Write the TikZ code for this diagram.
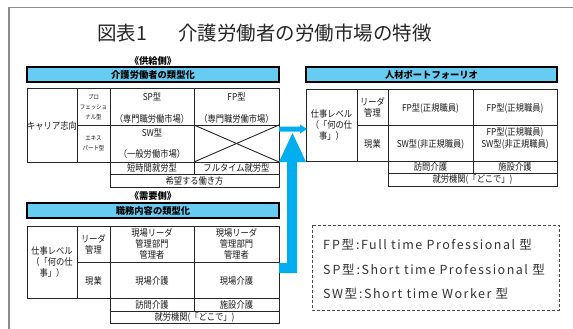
\documentclass[tikz,border=0pt]{standalone}
\usepackage{fontspec}
\setmainfont{Noto Sans CJK JP}
\newfontfamily\condfont[FakeStretch=0.88]{Noto Sans CJK JP}
\newfontfamily\legfont[LetterSpace=12]{Noto Sans CJK JP}
\usetikzlibrary{arrows.meta}
\definecolor{barblue}{HTML}{66CCF2}
\definecolor{arrblue}{HTML}{00AEEF}
\definecolor{framegray}{HTML}{8C8C8C}
\begin{document}
\begin{tikzpicture}[x=1pt,y=-1pt,
  t/.style={font=\condfont\fontsize{9.4}{11}\selectfont, inner sep=0pt, text=black!90, align=center},
  ts/.style={font=\condfont\fontsize{6.2}{10}\selectfont, inner sep=0pt, text=black!90, align=center},
  bar/.style={draw=black, line width=1.6pt, fill=barblue},
  grid/.style={line width=0.6pt, black!85},
  crossline/.style={line width=0.9pt, black!85},
  bartext/.style={font=\bfseries\fontsize{9.3}{10}\selectfont, inner sep=0pt},
  leg/.style={font=\legfont\fontsize{12.5}{14}\selectfont, inner sep=0pt, text=black!80, anchor=west},
]
\useasboundingbox (0,0) rectangle (573,329);
% frame
\draw[framegray, line width=1.2pt] (9,329) -- (9,7.5) -- (573,7.5);
% title
\node[font=\fontsize{19.5}{21}\selectfont, inner sep=0pt, anchor=west, text=black!85] (ttlA) at (97,33.5) {図表1};
\node[font=\fontsize{19.5}{21}\selectfont, inner sep=0pt, anchor=west, text=black!85] (ttlB) at (178,33.5) {介護労働者の労働市場の特徴};

% ---------- supply side ----------
\node[bartext] (supply) at (153,61) {《供給側》};
\draw[bar] (27,67) rectangle (279,82);
\node[bartext] (barA) at (153,74.5) {介護労働者の類型化};
\draw[grid] (27,88) rectangle (279,162);
\draw[grid] (77,88) -- (77,162);
\draw[grid] (110,88) -- (110,187);
\draw[grid] (194,88) -- (194,174);
\draw[grid] (77,125) -- (279,125);
\draw[grid] (110,162) rectangle (279,187);
\draw[grid] (110,174) -- (279,174);
\draw[crossline] (194,125) -- (279,162);
\draw[crossline] (194,162) -- (279,125);
\node[t] (career) at (52,125.5) {キャリア志向};
\node[ts] (pro) at (93.5,107) {プロ\\フェッショ\\ナル型};
\node[ts] (expt) at (93.5,143.5) {エキス\\パート型};
\node[t] (sp) at (152,97) {SP型};
\node[t] (spm) at (152,119) {（専門職労働市場）};
\node[t] (fp) at (236.5,97) {FP型};
\node[t] (fpm) at (236.5,119) {（専門職労働市場）};
\node[t] (sw) at (152,133) {SW型};
\node[t] (swm) at (152,154) {（一般労働市場）};
\node[t] (short) at (152,168) {短時間就労型};
\node[t] (full) at (236.5,168) {フルタイム就労型};
\node[t] (hope) at (194.5,180.5) {希望する働き方};

% ---------- portfolio ----------
\draw[bar] (306,67) rectangle (557,82);
\node[bartext] (barB) at (431.5,74.5) {人材ポートフォーリオ};
\draw[grid] (306,89) rectangle (557,161);
\draw[grid] (357,89) -- (357,161);
\draw[grid] (388,89) -- (388,186);
\draw[grid] (473,89) -- (473,173);
\draw[grid] (357,125) -- (557,125);
\draw[grid] (388,161) rectangle (557,186);
\draw[grid] (388,173) -- (557,173);
\node[t] (lvlR) at (331.5,125) {仕事レベル\\（「何の仕\\事」）};
\node[t] (leadR) at (372.5,107.5) {リーダ\\管理};
\node[t] (genR) at (372.5,144) {現業};
\node[t] (r11) at (430.5,108) {FP型(正規職員)};
\node[t] (r12) at (515,108) {FP型(正規職員)};
\node[t] (r21) at (430.5,144) {SW型(非正規職員)};
\node[t, font=\condfont\fontsize{9.4}{12}\selectfont] (r22) at (515,138) {FP型(正規職員)\\SW型(非正規職員)};
\node[t] (visitR) at (430.5,167) {訪問介護};
\node[t] (facR) at (515,167) {施設介護};
\node[t] (whereR) at (472.5,179.5) {就労機関(「どこで」)};

% ---------- demand side ----------
\node[bartext] (demand) at (153,196) {《需要側》};
\draw[bar] (27,203) rectangle (279,218);
\node[bartext] (barC) at (153,210.5) {職務内容の類型化};
\draw[grid] (27,226) rectangle (279,298);
\draw[grid] (77,226) -- (77,298);
\draw[grid] (110,226) -- (110,323);
\draw[grid] (194,226) -- (194,311);
\draw[grid] (77,262) -- (279,262);
\draw[grid] (110,298) rectangle (279,323);
\draw[grid] (110,311) -- (279,311);
\node[t] (lvlL) at (52,262.5) {仕事レベル\\（「何の仕\\事」）};
\node[t] (leadL) at (93.5,244) {リーダ\\管理};
\node[t] (genL) at (93.5,281) {現業};
\node[t] (l11) at (152,244) {現場リーダ\\管理部門\\管理者};
\node[t] (l12) at (236.5,244) {現場リーダ\\管理部門\\管理者};
\node[t] (l21) at (152,281) {現場介護};
\node[t] (l22) at (236.5,281) {現場介護};
\node[t] (visitL) at (152,305) {訪問介護};
\node[t] (facL) at (236.5,305) {施設介護};
\node[t] (whereL) at (194.5,317) {就労機関(「どこで」)};

% ---------- arrows ----------
\fill[arrblue] (279,263) -- (287,263) -- (287,162) -- (279,162) -- (292.5,133)
  -- (306,162) -- (297,162) -- (297,273) -- (279,273) -- cycle;
\fill[arrblue] (279,126.5) -- (300,126.5) -- (300,124.5) -- (307,129) -- (300,133.5)
  -- (300,131.5) -- (279,131.5) -- cycle;

% ---------- legend ----------
\draw[black!70, line width=0.7pt, dash pattern=on 3pt off 2pt] (312,225) rectangle (559,310);
\node[leg] (lg1) at (323,245) {F\kern2pt P型\,:Full time Professional 型};
\node[leg] (lg2) at (323,270) {S\kern2pt P型\,:Short time Professional 型};
\node[leg] (lg3) at (323,294) {SW型\,:Short time Worker 型};
\end{tikzpicture}
\end{document}
